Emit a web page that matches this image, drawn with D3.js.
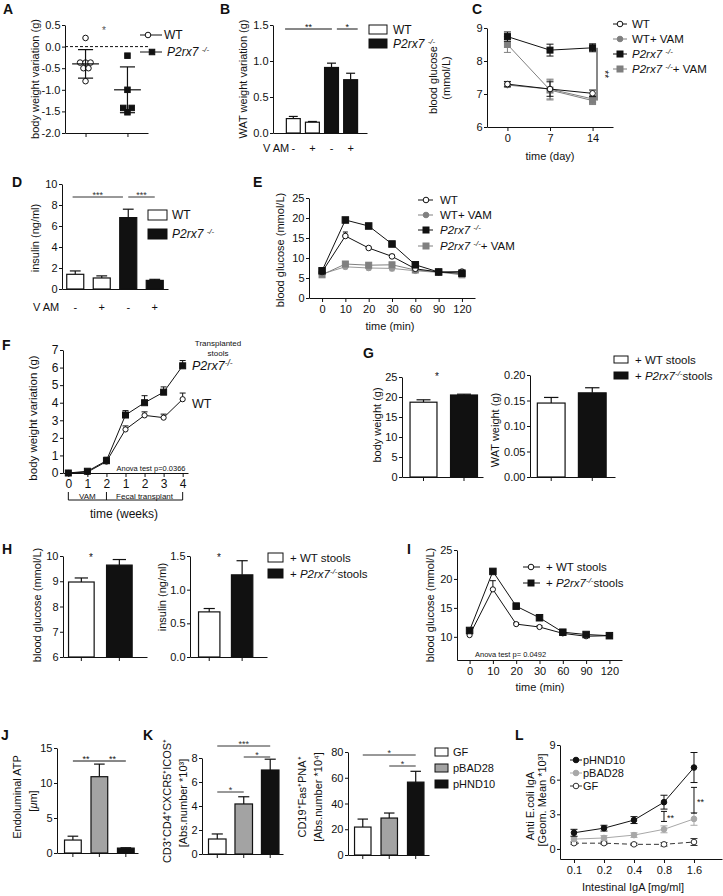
<!DOCTYPE html>
<html><head><meta charset="utf-8">
<script src="https://cdn.jsdelivr.net/npm/d3@7"></script>
<style>body{margin:0;background:#fff}svg{display:block}</style>
</head><body><div id="chart"></div>
<script>
// ================= DATA =================
// A
const aGroups = ["WT", "KO"];
const aWTPoints = [0.2, -0.37, -0.37, -0.37, -0.5, -0.5, -0.8];
const aWTJitter = [0, -0.13, 0, 0.12, -0.05, 0.07, 0];
const aKOPoints = [-0.21, -1.0, -1.42, -1.42, -1.52];
const aKOJitter = [0, 0, -0.1, 0.1, 0];
const aMeans = [-0.4, -1.0];
const aSD = [0.33, 0.53];
const aTicks = [0.5, 0.0, -0.5, -1.0, -1.5, -2.0];
// B
const bVAM = ["-", "+", "-", "+"];
const bValues = [0.2, 0.15, 0.91, 0.74];
const bErrors = [0.03, 0.01, 0.06, 0.09];
const bTicks = [0, 0.5, 1.0, 1.5];
const bSig = [{from: -0.43, to: 2.02, label: "**"}, {from: 2.28, to: 3.37, label: "*"}];
// C
const cDays = [0, 7, 14];
const cWT = [7.3, 7.15, 7.02], cWTErr = [0.08, 0.22, 0.1];
const cWTVAM = [7.27, 7.15, 6.85], cWTVAMErr = [0.06, 0.3, 0.1];
const cKO = [8.74, 8.33, 8.4], cKOErr = [0.14, 0.18, 0.12];
const cKOVAM = [8.5, 7.12, 6.8], cKOVAMErr = [0.24, 0.3, 0.12];
const cTicks = [6, 7, 8, 9];
const cSig = {from: 8.4, to: 6.8, label: "**"};
// D
const dVAM = ["-", "+", "-", "+"];
const dValues = [1.4, 1.05, 6.8, 0.82];
const dErrors = [0.32, 0.2, 0.8, 0.1];
const dTicks = [0, 2, 4, 6, 8, 10];
const dSig = [{from: -0.1, to: 1.8, label: "***"}, {from: 2.0, to: 3.0, label: "***"}];
// E
const eTimes = ["0", "10", "20", "30", "60", "90", "120"];
const eWT = [6.5, 15.5, 12.5, 10.4, 7.3, 6.5, 6.6], eWTErr = [0.3, 1.0, 0.3, 0.5, 0.3, 0.2, 0.2];
const eWTVAM = [6.0, 7.8, 7.5, 7.4, 6.8, 6.4, 6.2], eWTVAMErr = [0.3, 0.5, 0.5, 0.6, 0.3, 0.2, 0.3];
const eKO = [6.8, 19.5, 18.0, 13.5, 8.3, 6.5, 6.2], eKOErr = [0.3, 0.4, 0.4, 0.4, 0.4, 0.2, 0.2];
const eKOVAM = [5.8, 8.5, 8.2, 8.3, 7.0, 6.5, 5.8], eKOVAMErr = [0.3, 0.5, 0.6, 0.6, 0.3, 0.2, 0.3];
const eTicks = [0, 5, 10, 15, 20, 25];
// F
const fWeekLabels = ["0", "1", "2", "1", "2", "3", "4"];
const fKO = [0, 0.1, 0.7, 3.3, 4.0, 4.6, 6.1], fKOErr = [0.03, 0.05, 0.2, 0.25, 0.4, 0.3, 0.3];
const fWT = [0, 0.05, 0.65, 2.48, 3.28, 3.15, 4.2], fWTErr = [0.03, 0.05, 0.2, 0.2, 0.2, 0.2, 0.35];
const fTicks = [0, 1, 2, 3, 4, 5, 6, 7];
// G
const gBody = [18.7, 20.5], gBodyErr = [0.6, 0.2];
const gWAT = [0.145, 0.165], gWATErr = [0.011, 0.01];
const gBodyTicks = [0, 5, 10, 15, 20, 25];
const gWATTicks = [0, 0.05, 0.10, 0.15, 0.20];
// H
const hGlucose = [8.97, 9.64], hGlucoseErr = [0.16, 0.22];
const hInsulin = [0.67, 1.22], hInsulinErr = [0.05, 0.21];
const hGlucoseTicks = [6, 7, 8, 9, 10];
const hInsulinTicks = [0, 0.5, 1.0, 1.5];
// I
const iTimes = ["0", "10", "20", "30", "60", "90", "120"];
const iWT = [10.3, 18.2, 12.2, 11.7, 10.6, 10.1, 10.2], iWTErr = [0.2, 1.5, 0.2, 0.2, 0.2, 0.2, 0.2];
const iKO = [11.1, 21.3, 15.3, 13.3, 10.8, 10.4, 10.2], iKOErr = [0.2, 0.3, 0.5, 0.3, 0.2, 0.2, 0.2];
const iTicks = [10, 15, 20, 25];
// J
const jGroups = ["GF", "pBAD28", "pHND10"];
const jATP = [1.85, 10.9, 0.7], jATPErr = [0.55, 1.8, 0.05];
const jTicks = [0, 5, 10, 15];
// K
const kTfh = [1.25, 4.17, 7.0], kTfhErr = [0.42, 0.6, 0.9];
const kGC = [21.7, 28.7, 56.6], kGCErr = [6.2, 3.9, 8.4];
const kTfhTicks = [0, 2, 4, 6, 8];
const kGCTicks = [0, 20, 40, 60, 80];
const kTfhSig = [{from: 0, to: 1, label: "*", level: 0}, {from: 1, to: 2, label: "*", level: 1}, {from: 0, to: 2, label: "***", level: 2}];
const kGCSig = [{from: 1, to: 2, label: "*", level: 0}, {from: 0, to: 2, label: "*", level: 1}];
// L
const lConc = ["0.1", "0.2", "0.4", "0.8", "1.6"];
const lHND = [1.4, 1.8, 2.5, 4.05, 7.05], lHNDErr = [0.3, 0.25, 0.3, 0.6, 1.3];
const lBAD = [0.85, 0.95, 1.2, 1.7, 2.6], lBADErr = [0.2, 0.2, 0.2, 0.3, 0.55];
const lGF = [0.5, 0.5, 0.4, 0.4, 0.6], lGFErr = [0.1, 0.1, 0.1, 0.15, 0.3];
const lTicks = [0, 3, 6, 9];
const lBrackets = [{at: "0.8", lo: 2.38, hi: 3.25, label: "**"}, {at: "1.6", lo: 3.1, hi: 5.33, label: "**"}];

// ================= HELPERS =================
const FONT = "'Liberation Sans', Arial, Helvetica, sans-serif";
const INK = "#111";
const BARGRAY = "#a3a3a3";
const svg = d3.select("#chart").append("svg").attr("width", 723).attr("height", 896)
  .attr("font-family", FONT);

function txt(x, y, s, o = {}) {
  const t = svg.append("text").attr("x", x).attr("y", y)
    .attr("font-size", o.size || 11).attr("fill", o.fill || INK)
    .attr("text-anchor", o.anchor || "start");
  if (o.weight) t.attr("font-weight", o.weight);
  if (o.italic) t.attr("font-style", "italic");
  if (s != null) t.text(s);
  return t;
}
function letter(s, x, y) { txt(x, y, s, {size: 14, weight: "bold"}); }
function vlabel(x, y, s, size = 11) {
  const t = svg.append("text").attr("transform", `translate(${x},${y}) rotate(-90)`)
    .attr("text-anchor", "middle").attr("dy", "0.35em").attr("font-size", size).attr("fill", INK);
  if (s != null) t.text(s);
  return t;
}
function ko(t, pre, post, supSize, sp) {
  if (pre) t.append("tspan").text(pre);
  t.append("tspan").attr("font-style", "italic").text("P2rx7" + (sp ? "\u00a0" : ""));
  t.append("tspan").attr("font-style", "italic").attr("font-size", supSize).attr("dy", -4).text("-/-");
  t.append("tspan").attr("dy", 4).text(post || "");
  return t;
}
function styleAxis(a, size = 11) {
  a.attr("font-family", FONT).attr("font-size", size);
  a.selectAll("text").attr("fill", INK);
  a.selectAll("path,line").attr("stroke", INK).attr("stroke-width", 1);
}
function yAxis(x, scale, ticks, fmt, size = 11) {
  const a = svg.append("g").attr("transform", `translate(${x},0)`)
    .call(d3.axisLeft(scale).tickValues(ticks).tickFormat(fmt).tickSize(3).tickSizeOuter(0).tickPadding(1.5));
  styleAxis(a, size);
  return a;
}
function xAxis(y, scale, o = {}) {
  const ax = d3.axisBottom(scale).tickSize(o.tick == null ? 4 : o.tick).tickSizeOuter(0).tickPadding(o.pad || 3);
  if (o.fmt !== undefined) ax.tickFormat(o.fmt);
  const a = svg.append("g").attr("transform", `translate(0,${y})`).call(ax);
  styleAxis(a, o.size || 11);
  return a;
}
function bandC(xs, i) { return xs(xs.domain()[0]) + xs.bandwidth() / 2 + i * xs.step(); }
function drawBars(xs, ys, values, errors, fills, capFrac = 0.5) {
  const base = ys.domain()[0];
  const data = values.map((v, i) => ({k: xs.domain()[i], v, e: errors[i], f: fills[i]}));
  const g = svg.append("g");
  const cx = d => xs(d.k) + xs.bandwidth() / 2;
  const cw = xs.bandwidth() * capFrac / 2;
  g.append("g").selectAll("line").data(data).join("line")
    .attr("x1", cx).attr("x2", cx).attr("y1", d => ys(d.v)).attr("y2", d => ys(d.v + d.e))
    .attr("stroke", INK).attr("stroke-width", 1.2);
  g.append("g").selectAll("line").data(data).join("line")
    .attr("x1", d => cx(d) - cw).attr("x2", d => cx(d) + cw).attr("y1", d => ys(d.v + d.e)).attr("y2", d => ys(d.v + d.e))
    .attr("stroke", INK).attr("stroke-width", 1.2);
  g.append("g").selectAll("rect").data(data).join("rect")
    .attr("x", d => xs(d.k) + 0.5).attr("y", d => ys(d.v)).attr("width", xs.bandwidth() - 1)
    .attr("height", d => ys(base) - ys(d.v)).attr("fill", d => d.f).attr("stroke", INK).attr("stroke-width", 1.2);
}
function sigLine(xs, y, s, color = INK, size = 9) {
  const x1 = bandC(xs, s.from), x2 = bandC(xs, s.to);
  svg.append("line").attr("x1", x1).attr("x2", x2).attr("y1", y).attr("y2", y).attr("stroke", color).attr("stroke-width", 1);
  txt((x1 + x2) / 2, y + 1, s.label, {size, anchor: "middle", fill: color});
}
function drawMarker(g, x, y, o) {
  if (o.shape === "square") {
    g.append("rect").attr("x", x - o.size / 2).attr("y", y - o.size / 2).attr("width", o.size).attr("height", o.size)
      .attr("fill", o.fill).attr("stroke", o.color).attr("stroke-width", 1);
  } else {
    g.append("circle").attr("cx", x).attr("cy", y).attr("r", o.r || 2.8)
      .attr("fill", o.fill).attr("stroke", o.color).attr("stroke-width", 1);
  }
}
function drawSeries(xs, ys, keys, vals, errs, o) {
  const g = svg.append("g");
  const pts = keys.map((k, i) => ({x: xs(k), v: vals[i], e: errs ? errs[i] : 0}));
  g.append("path").datum(pts).attr("d", d3.line().x(d => d.x).y(d => ys(d.v)))
    .attr("fill", "none").attr("stroke", o.color).attr("stroke-width", o.lw || 1)
    .attr("stroke-dasharray", o.dash || null);
  const cap = o.cap || 3;
  pts.filter(d => d.e > 0).forEach(d => {
    const lo = o.up ? d.v : d.v - d.e, hi = d.v + d.e;
    g.append("line").attr("x1", d.x).attr("x2", d.x).attr("y1", ys(lo)).attr("y2", ys(hi)).attr("stroke", o.color);
    g.append("line").attr("x1", d.x - cap).attr("x2", d.x + cap).attr("y1", ys(hi)).attr("y2", ys(hi)).attr("stroke", o.color);
    if (!o.up) g.append("line").attr("x1", d.x - cap).attr("x2", d.x + cap).attr("y1", ys(lo)).attr("y2", ys(lo)).attr("stroke", o.color);
  });
  pts.forEach(d => drawMarker(g, d.x, ys(d.v), o));
}
function lineLegend(x1, x2, mx, tx, y, o, size = 11) {
  const g = svg.append("g");
  g.append("line").attr("x1", x1).attr("x2", x2).attr("y1", y).attr("y2", y).attr("stroke", o.color)
    .attr("stroke-dasharray", o.dash || null);
  drawMarker(g, mx, y, o);
  return txt(tx, y + size * 0.36, null, {size});
}
function boxLegend(x, y, w, h, fill, tx, size = 11) {
  svg.append("rect").attr("x", x).attr("y", y).attr("width", w).attr("height", h).attr("fill", fill).attr("stroke", INK).attr("stroke-width", 1);
  return txt(tx, y + h / 2 + size * 0.36, null, {size});
}

const sWT = {color: INK, fill: "#fff", shape: "circle", r: 2.8};
const sKO = {color: INK, fill: INK, shape: "square", size: 6};

// ================= PANEL A =================
letter("A", 3, 14);
const aY = d3.scaleLinear().domain([-2, 0.5]).range([133, 25]);
const aX = d3.scalePoint().domain(aGroups).range([65, 148]).padding(0.49);
svg.append("line").attr("x1", 65).attr("x2", 148).attr("y1", aY(0)).attr("y2", aY(0))
  .attr("stroke", INK).attr("stroke-dasharray", "3,2");
[[aWTPoints, aWTJitter, sWT, 0], [aKOPoints, aKOJitter, {...sKO, size: 5.5}, 1]].forEach(([pts, jit, st, gi]) => {
  const g = svg.append("g");
  const cx = aX(aGroups[gi]);
  pts.forEach((v, i) => drawMarker(g, cx + jit[i] * aX.step(), aY(v), st));
  const m = aMeans[gi], sd = aSD[gi], hw = 0.32 * aX.step(), cw = 0.18 * aX.step();
  g.append("line").attr("x1", cx - hw).attr("x2", cx + hw).attr("y1", aY(m)).attr("y2", aY(m)).attr("stroke", INK).attr("stroke-width", 1.2);
  g.append("line").attr("x1", cx).attr("x2", cx).attr("y1", aY(m - sd)).attr("y2", aY(m + sd)).attr("stroke", INK).attr("stroke-width", 1.2);
  [m - sd, m + sd].forEach(v => g.append("line").attr("x1", cx - cw).attr("x2", cx + cw).attr("y1", aY(v)).attr("y2", aY(v)).attr("stroke", INK).attr("stroke-width", 1.2));
});
yAxis(65, aY, aTicks, d => d.toFixed(1));
xAxis(133, aX, {fmt: "", tick: 4});
vlabel(35, 79, "body weight variation (g)");
txt(104, 34, "*", {size: 10, anchor: "middle", fill: "#555"});
lineLegend(140, 162, 148, 164, 35, sWT, 12).text("WT");
ko(lineLegend(140, 162, 152, 167, 52, {...sKO, size: 5.5}, 12), null, "", 8, true);

// ================= PANEL B =================
letter("B", 220, 14);
const bY = d3.scaleLinear().domain([0, 1.5]).range([133, 25]);
const bX = d3.scaleBand().domain(d3.range(4)).range([273, 367]).paddingInner(0.22).paddingOuter(0.57).align(0.59);
drawBars(bX, bY, bValues, bErrors, ["#fff", "#fff", INK, INK], 0.6);
yAxis(273, bY, bTicks, d => d.toFixed(1));
xAxis(133, bX, {fmt: "", tick: 0});
vlabel(243, 79, "WAT weight variation (g)");
bSig.forEach(s => sigLine(bX, 29, s));
txt(263, 152, "V AM", {size: 11});
bVAM.forEach((s, i) => txt(bandC(bX, i), 152, s, {size: 11, anchor: "middle"}));
boxLegend(369, 25, 18, 9, "#fff", 393, 12).text("WT");
ko(boxLegend(369, 39, 18, 9, INK, 393, 12), null, "", 8, true);

// ================= PANEL C =================
letter("C", 472, 14);
const cY = d3.scaleLinear().domain([6, 9]).range([127, 28]);
const cX = d3.scalePoint().domain(cDays).range([487, 613]).padding(0.48);
const sGrayC = {color: "#7f7f7f", fill: "#7f7f7f", shape: "circle", r: 2.8};
const sGraySqC = {color: "#7f7f7f", fill: "#7f7f7f", shape: "square", size: 6};
drawSeries(cX, cY, cDays, cKOVAM, cKOVAMErr, {...sGraySqC, cap: 3.5});
drawSeries(cX, cY, cDays, cWTVAM, cWTVAMErr, {...sGrayC, cap: 3.5});
drawSeries(cX, cY, cDays, cKO, cKOErr, {...sKO, cap: 3.5});
drawSeries(cX, cY, cDays, cWT, cWTErr, {...sWT, cap: 3.5});
yAxis(487, cY, cTicks, d3.format("d"));
xAxis(127, cX, {fmt: d3.format("d")});
vlabel(433, 80, "blood glucose");
vlabel(446, 78, "(mmol/L)");
txt(550, 160, "time (day)", {anchor: "middle"});
svg.append("line").attr("x1", 597).attr("x2", 597).attr("y1", cY(cSig.from)).attr("y2", cY(cSig.to)).attr("stroke", INK);
svg.append("text").attr("transform", `translate(601,${(cY(cSig.from) + cY(cSig.to)) / 2}) rotate(90)`)
  .attr("text-anchor", "middle").attr("font-size", 10).attr("fill", INK).text(cSig.label);
lineLegend(613, 627, 620, 632, 24, sWT, 11.5).text("WT");
lineLegend(613, 627, 620, 632, 39, sGrayC, 11.5).text("WT+ VAM");
ko(lineLegend(613, 627, 620, 632, 54, sKO, 11.5), null, "", 8, true);
ko(lineLegend(613, 627, 620, 632, 69, sGraySqC, 11.5), null, "+ VAM", 8, true);

// ================= PANEL D =================
letter("D", 12, 187);
const dY = d3.scaleLinear().domain([0, 10]).range([289, 184]);
const dX = d3.scaleBand().domain(d3.range(4)).range([62, 168]).paddingInner(0.32).paddingOuter(0.16);
drawBars(dX, dY, dValues, dErrors, ["#fff", "#fff", INK, INK], 0.6);
yAxis(62, dY, dTicks, d3.format("d"));
xAxis(289, dX, {fmt: "", tick: 0});
vlabel(35, 238, "insulin (ng/ml)");
dSig.forEach(s => sigLine(dX, 197, s, "#333"));
txt(33, 311, "V AM", {size: 11});
dVAM.forEach((s, i) => txt(bandC(dX, i), 311, s, {size: 11, anchor: "middle"}));
boxLegend(148, 210, 19, 10, "#fff", 172, 12).text("WT");
ko(boxLegend(148, 229, 19, 10, INK, 172, 12), null, "", 8, true);

// ================= PANEL E =================
letter("E", 253, 187);
const eY = d3.scaleLinear().domain([0, 25]).range([298, 198]);
const eX = d3.scalePoint().domain(eTimes).range([309, 475]).padding(0.56);
const sGrayE1 = {color: "#9a9a9a", fill: "#9a9a9a", shape: "circle", r: 2.8};
const sGrayE2 = {color: "#808080", fill: "#808080", shape: "square", size: 6};
drawSeries(eX, eY, eTimes, eWTVAM, eWTVAMErr, {...sGrayE1, cap: 2.5});
drawSeries(eX, eY, eTimes, eKOVAM, eKOVAMErr, {...sGrayE2, cap: 2.5});
drawSeries(eX, eY, eTimes, eWT, eWTErr, {...sWT, cap: 2.5, up: true});
drawSeries(eX, eY, eTimes, eKO, eKOErr, {...sKO, size: 6.5, cap: 2.5, up: true});
yAxis(309, eY, eTicks, d3.format("d"));
xAxis(298, eX);
vlabel(280, 250, "blood glucose (mmol/L)");
txt(390, 330, "time (min)", {anchor: "middle"});
lineLegend(418, 433, 426, 440, 200, sWT, 11.5).text("WT");
lineLegend(418, 433, 426, 440, 215, {...sGrayE1, color: "#808080", fill: "#808080"}, 11.5).text("WT+ VAM");
ko(lineLegend(418, 433, 426, 440, 230, sKO, 11.5), null, "", 8, true);
ko(lineLegend(418, 433, 426, 440, 246, sGrayE2, 11.5), null, "+ VAM", 8, true);

// ================= PANEL F =================
letter("F", 2, 350);
const fY = d3.scaleLinear().domain([0, 7]).range([473, 350]);
const fX = d3.scalePoint().domain(d3.range(fWeekLabels.length)).range([63, 188]).padding(0.28);
drawSeries(fX, fY, fX.domain(), fWT, fWTErr, {...sWT, r: 2.6, cap: 3, up: true});
drawSeries(fX, fY, fX.domain(), fKO, fKOErr, {...sKO, size: 6, cap: 3, up: true});
yAxis(63, fY, fTicks, d3.format("d"), 12);
xAxis(473, fX, {fmt: i => fWeekLabels[i], size: 12, pad: 2});
vlabel(33, 418, "body weight variation (g)", 11.5);
txt(124, 518, "time (weeks)", {anchor: "middle", size: 12});
{
  const by = 500, bt = 492;
  svg.append("line").attr("x1", fX(0)).attr("x2", fX(6)).attr("y1", by).attr("y2", by).attr("stroke", INK);
  [0, 2, 6].forEach(i => svg.append("line").attr("x1", fX(i)).attr("x2", fX(i)).attr("y1", bt).attr("y2", by).attr("stroke", INK));
  txt(fX(1), 498.5, "VAM", {size: 8, anchor: "middle"});
  txt((fX(2) + fX(6)) / 2, 498.5, "Fecal transplant", {size: 8, anchor: "middle"});
}
txt(151, 471, "Anova test p=0.0366", {size: 7.5, anchor: "middle"});
txt(218, 346, "Transplanted", {size: 8, anchor: "middle"});
txt(218, 356, "stools", {size: 8, anchor: "middle"});
ko(txt(192, 370, null, {size: 12.5}), null, "", 8.5, false);
txt(192, 408, "WT", {size: 12.5});

// ================= PANEL G =================
letter("G", 363, 358);
const gY1 = d3.scaleLinear().domain([0, 25]).range([477, 377]);
const gX1 = d3.scaleBand().domain([0, 1]).range([402, 483]).paddingInner(0.31).paddingOuter(0.155).align(0.6);
drawBars(gX1, gY1, gBody, gBodyErr, ["#fff", INK], 0.5);
yAxis(402, gY1, gBodyTicks, d3.format("d"));
xAxis(477, gX1, {fmt: "", tick: 4});
vlabel(377, 425, "body weight (g)");
txt(437, 380, "*", {size: 10, anchor: "middle"});
const gY2 = d3.scaleLinear().domain([0, 0.2]).range([477, 375]);
const gX2 = d3.scaleBand().domain([0, 1]).range([530, 615]).paddingInner(0.3).paddingOuter(0.185).align(0.45);
drawBars(gX2, gY2, gWAT, gWATErr, ["#fff", INK], 0.5);
yAxis(530, gY2, gWATTicks, d3.format(".2f"));
xAxis(477, gX2, {fmt: "", tick: 4});
vlabel(495, 430, "WAT weight (g)");
boxLegend(614, 356, 14, 7, "#fff", 635, 11.5).text("+ WT stools");
ko(boxLegend(614, 372, 14, 7, INK, 635, 11.5), "+ ", "stools", 8, false);

// ================= PANEL H =================
letter("H", 2, 554);
const hY1 = d3.scaleLinear().domain([6, 10]).range([657, 556]);
const hX1 = d3.scaleBand().domain([0, 1]).range([63, 147]).paddingInner(0.3).paddingOuter(0.255).align(0.26);
drawBars(hX1, hY1, hGlucose, hGlucoseErr, ["#fff", INK], 0.5);
yAxis(63, hY1, hGlucoseTicks, d3.format("d"));
xAxis(657, hX1, {fmt: "", tick: 4});
vlabel(37, 605, "blood glucose (mmol/L)");
txt(91, 561, "*", {size: 10, anchor: "middle"});
const hY2 = d3.scaleLinear().domain([0, 1.5]).range([657, 556]);
const hX2 = d3.scaleBand().domain([0, 1]).range([190, 267]).paddingInner(0.32).paddingOuter(0.33).align(0.37);
drawBars(hX2, hY2, hInsulin, hInsulinErr, ["#fff", INK], 0.5);
yAxis(190, hY2, hInsulinTicks, d3.format(".1f"));
xAxis(657, hX2, {fmt: "", tick: 4});
vlabel(162, 597, "insulin (ng/ml)");
txt(219, 561, "*", {size: 10, anchor: "middle"});
boxLegend(268, 553, 15, 9, "#fff", 290, 11.5).text("+ WT stools");
ko(boxLegend(268, 569, 15, 9, INK, 290, 11.5), "+ ", "stools", 8, false);

// ================= PANEL I =================
letter("I", 407, 554);
const iY = d3.scaleLinear().domain([6, 25]).range([660, 550]);
const iX = d3.scalePoint().domain(iTimes).range([457, 622]).padding(0.54);
drawSeries(iX, iY, iTimes, iWT, iWTErr, {...sWT, r: 2.6, cap: 3, up: true});
drawSeries(iX, iY, iTimes, iKO, iKOErr, {...sKO, size: 6.5, cap: 3, up: true});
yAxis(457, iY, iTicks, d3.format("d"));
xAxis(660, iX);
vlabel(430, 605, "blood glucose (mmol/L)");
txt(540, 691, "time (min)", {anchor: "middle"});
txt(475, 657, "Anova test p= 0.0492", {size: 7.5});
lineLegend(523, 540, 531, 546, 567, sWT, 11.5).text("+ WT stools");
ko(lineLegend(523, 540, 531, 546, 583, sKO, 11.5), "+ ", "stools", 8, false);

// ================= PANEL J =================
letter("J", 1, 740);
const jY = d3.scaleLinear().domain([0, 15]).range([853, 748]);
const jX = d3.scaleBand().domain(d3.range(3)).range([57, 138]).paddingInner(0.33).paddingOuter(0.195).align(0.68);
drawBars(jX, jY, jATP, jATPErr, ["#fff", BARGRAY, INK], 0.6);
yAxis(57, jY, jTicks, d3.format("d"));
xAxis(853, jX, {fmt: "", tick: 4});
vlabel(17, 797, "Endoluminal ATP");
{
  const t = vlabel(33, 801, null);
  t.append("tspan").text("[");
  t.append("tspan").attr("font-style", "italic").text("\u03bc");
  t.append("tspan").text("m]");
}
svg.append("line").attr("x1", bandC(jX, 0)).attr("x2", bandC(jX, 2)).attr("y1", 761).attr("y2", 761).attr("stroke", INK);
txt(bandC(jX, 0.5), 762, "**", {size: 9, anchor: "middle"});
txt(bandC(jX, 1.5), 762, "**", {size: 9, anchor: "middle"});

// ================= PANEL K =================
letter("K", 143, 740);
const kY1 = d3.scaleLinear().domain([0, 8]).range([854, 758]);
const kX1 = d3.scaleBand().domain(d3.range(3)).range([202, 283]).paddingInner(0.3).paddingOuter(0.18).align(0.63);
drawBars(kX1, kY1, kTfh, kTfhErr, ["#fff", BARGRAY, INK], 0.6);
yAxis(202, kY1, kTfhTicks, d3.format("d"));
xAxis(854, kX1, {fmt: "", tick: 4});
const kTfhY = [792, 757, 746];
kTfhSig.forEach(s => sigLine(kX1, kTfhY[s.level], s, "#333"));
vlabel(167, 801, "CD3\u207aCD4\u207aCXCR5\u207aICOS\u207a");
vlabel(183, 803, "[Abs.number *10\u00b3]");
const kY2 = d3.scaleLinear().domain([0, 80]).range([855, 752]);
const kX2 = d3.scaleBand().domain(d3.range(3)).range([348, 429]).paddingInner(0.34).paddingOuter(0.2).align(0.57);
drawBars(kX2, kY2, kGC, kGCErr, ["#fff", BARGRAY, INK], 0.6);
yAxis(348, kY2, kGCTicks, d3.format("d"));
xAxis(855, kX2, {fmt: "", tick: 4});
const kGCY = [766, 755];
kGCSig.forEach(s => sigLine(kX2, kGCY[s.level], s, "#333"));
vlabel(302, 797, "CD19\u207aFas\u207aPNA\u207a");
vlabel(318, 797, "[Abs.number *10\u2074]");
[["#fff", 748], [BARGRAY, 764], [INK, 780]].forEach(([f, y], i) =>
  boxLegend(435, y, 13, 8, f, 453, 11).text(jGroups[i]));

// ================= PANEL L =================
letter("L", 515, 740);
const lY = d3.scaleLinear().domain([-0.87, 9]).range([859, 745]);
const lX = d3.scalePoint().domain(lConc).range([560, 722]).padding(0.7).align(0.333);
const sHND = {color: INK, fill: INK, shape: "circle", r: 2.8};
const sBAD = {color: "#a8a8a8", fill: "#a8a8a8", shape: "circle", r: 2.8};
const sGF = {color: "#333", fill: "#fff", shape: "circle", r: 2.8, dash: "5,3"};
drawSeries(lX, lY, lConc, lGF, lGFErr, {...sGF, cap: 3.5});
drawSeries(lX, lY, lConc, lBAD, lBADErr, {...sBAD, cap: 3.5});
drawSeries(lX, lY, lConc, lHND, lHNDErr, {...sHND, cap: 3.5});
lBrackets.forEach(b => {
  const x = lX(b.at);
  svg.append("line").attr("x1", x).attr("x2", x).attr("y1", lY(b.lo)).attr("y2", lY(b.hi)).attr("stroke", INK);
  [b.lo, b.hi].forEach(v => svg.append("line").attr("x1", x - 3).attr("x2", x + 3).attr("y1", lY(v)).attr("y2", lY(v)).attr("stroke", INK));
  txt(x + 3, (lY(b.lo) + lY(b.hi)) / 2 + 5, b.label, {size: 9});
});
yAxis(560, lY, lTicks, d3.format("d"));
xAxis(859, lX, {tick: 4});
vlabel(530, 806, "Anti E.coli IgA");
vlabel(542, 800, "[Geom. Mean *10\u00b3]");
txt(633, 891, "Intestinal IgA [mg/ml]", {anchor: "middle"});
lineLegend(570, 582, 576, 583, 760, sHND).text("pHND10");
lineLegend(570, 582, 576, 583, 773, sBAD).text("pBAD28");
lineLegend(570, 582, 576, 583, 786, sGF).text("GF");
</script>
</body></html>
